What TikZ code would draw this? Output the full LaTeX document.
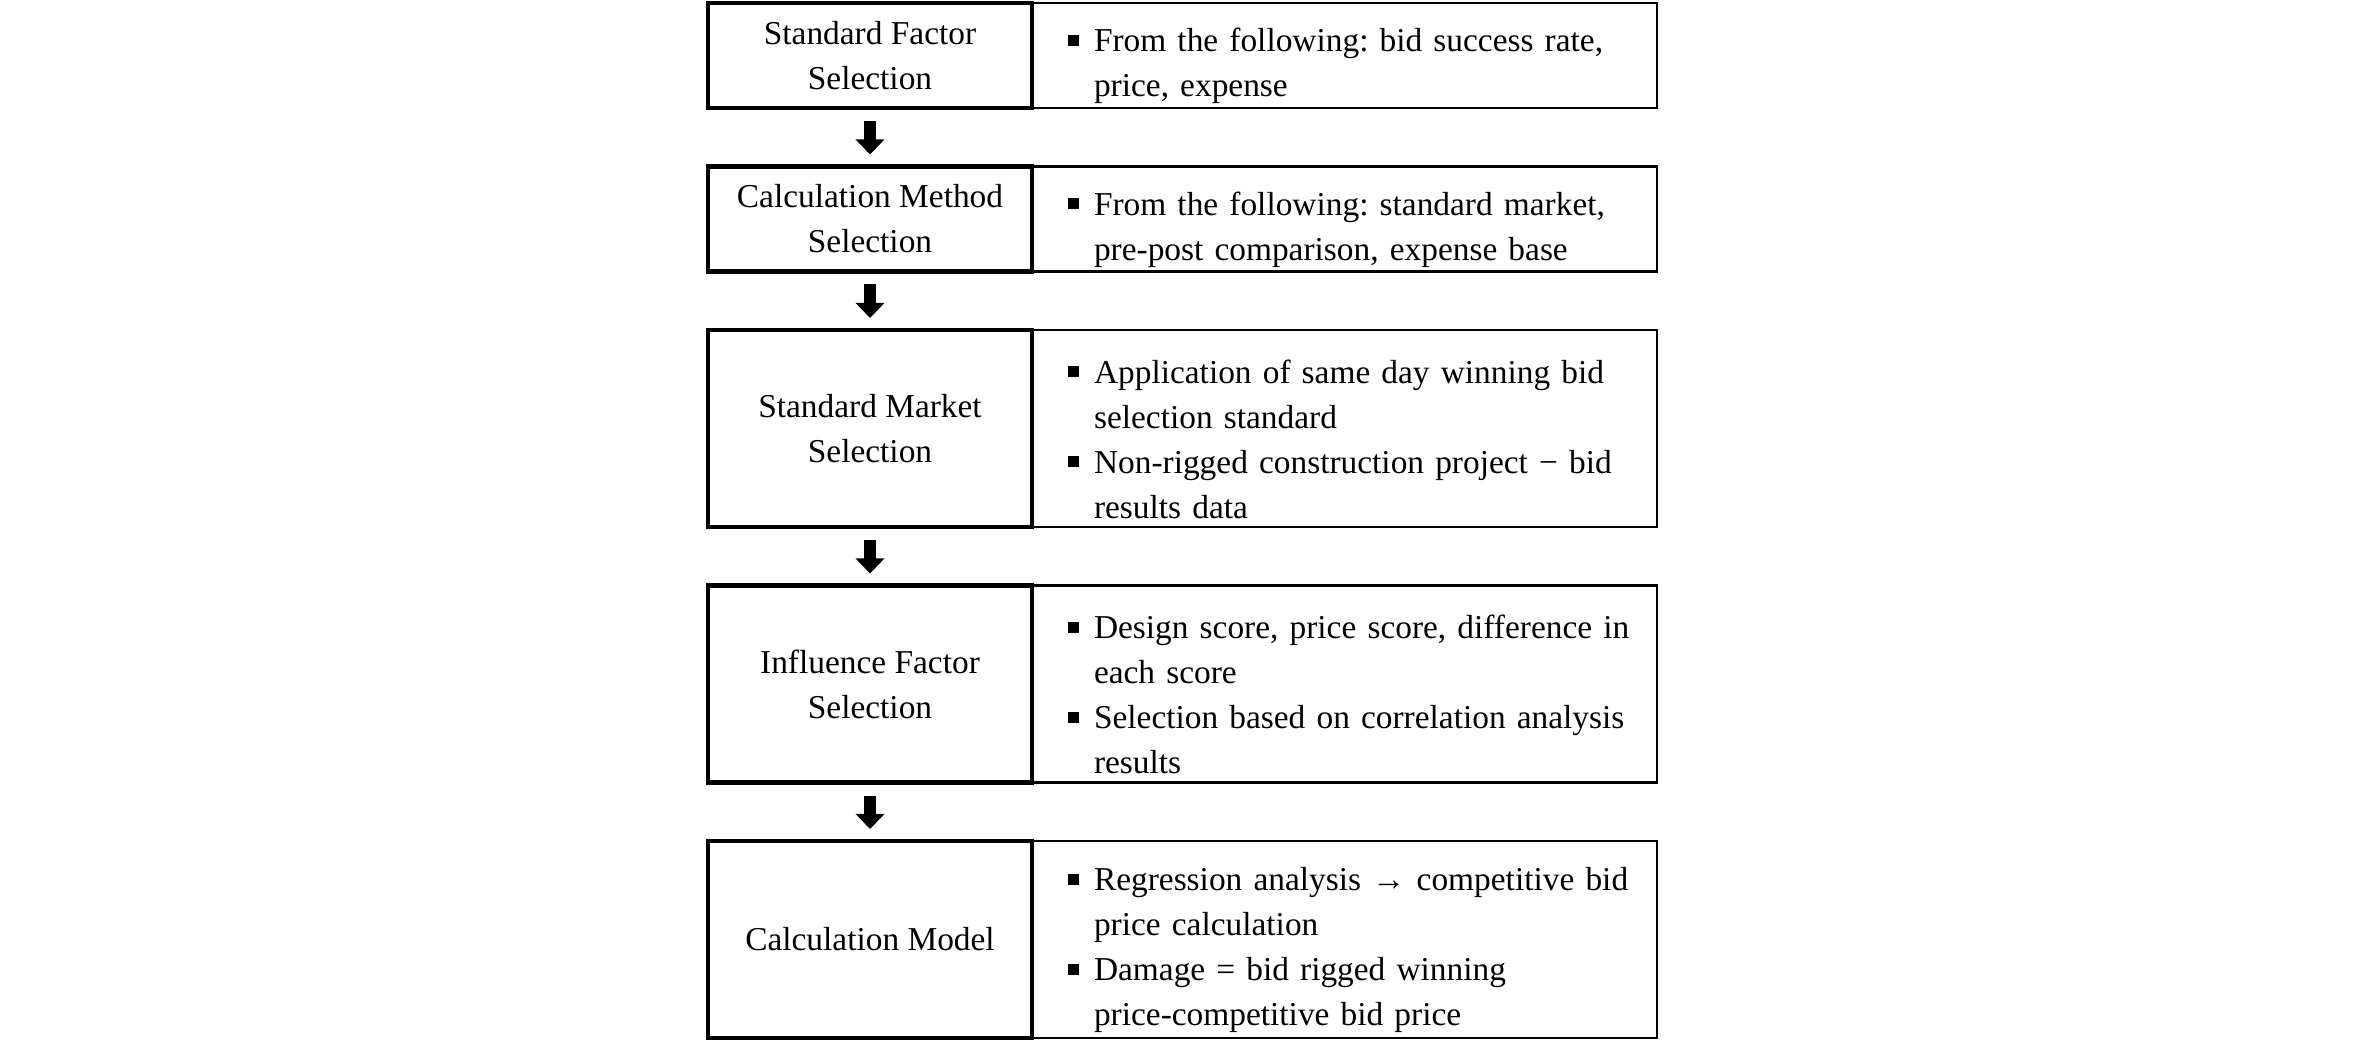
\documentclass[tikz,border=0pt]{standalone}
\usepackage{fontspec}
\setmainfont{Liberation Serif}
\usetikzlibrary{positioning,arrows.meta}

\newcommand{\sqbul}{\rule[1.7pt]{3.2pt}{3.2pt}}
\newcommand{\itm}[1]{\par\leftskip=0.36cm\hangindent=7.4pt\hangafter=1\noindent\makebox[7.4pt][l]{\sqbul}#1\par}

\tikzset{
    stagebox/.style={draw,line width=1.2pt,minimum width=3.24cm,align=center,inner sep=0pt,outer sep=0pt,font=\fontsize{9.5pt}{12.8pt}\selectfont},
    infobox/.style={draw,line width=0.6pt,minimum width=6.25cm,text width=6.25cm,align=left,inner sep=0pt,outer sep=0pt,anchor=west,font=\fontsize{9.5pt}{12.8pt}\selectfont\frenchspacing},
    flowarrow/.style={line width=3.4pt,-{Triangle[width=8pt,length=4.3pt]},shorten <=0.13cm,shorten >=0.12cm}
}

\begin{document}
\begin{tikzpicture}[node distance=0.585cm]
            \useasboundingbox (0,0) rectangle (23.62,-10.43);

            \node[stagebox,minimum height=1.05cm] (s1) at (8.70,-0.555) {Standard Factor\\Selection};
            \node[stagebox,minimum height=1.05cm,below=of s1] (s2) {Calculation Method\\Selection};
            \node[stagebox,minimum height=1.97cm,below=of s2] (s3) {Standard Market\\Selection};
            \node[stagebox,minimum height=1.97cm,below=of s3] (s4) {Influence Factor\\Selection};
            \node[stagebox,minimum height=1.97cm,below=of s4] (s5) {Calculation Model};

            \node[infobox,minimum height=1.05cm] (d1) at (s1.east) {\itm{From the following: bid success rate,\newline price, expense}};
            \node[infobox,minimum height=1.05cm] (d2) at (s2.east) {\itm{From the following: standard market,\newline pre-post comparison, expense base}};
            \node[infobox,minimum height=1.97cm] (d3) at (s3.east) {\itm{Application of same day winning bid\newline selection standard}
                \itm{Non-rigged construction project − bid\newline results data}};
            \node[infobox,minimum height=1.97cm] (d4) at (s4.east) {\itm{Design score, price score, difference in\newline each score}
                \itm{Selection based on correlation analysis\newline results}};
            \node[infobox,minimum height=1.97cm] (d5) at (s5.east) {\itm{Regression analysis → competitive bid\newline price calculation}
                \itm{Damage = bid rigged winning\newline price-competitive bid price}};

            % redraw the thick frames on top
            \foreach \s in {s1,s2,s3,s4,s5}{
                    \draw[line width=1.2pt] (\s.north west) rectangle (\s.south east);
                }

            \foreach \a/\b in {s1/s2,s2/s3,s3/s4,s4/s5}{
                    \draw[flowarrow] (\a) -- (\b);
                }
        \end{tikzpicture}
\end{document}
